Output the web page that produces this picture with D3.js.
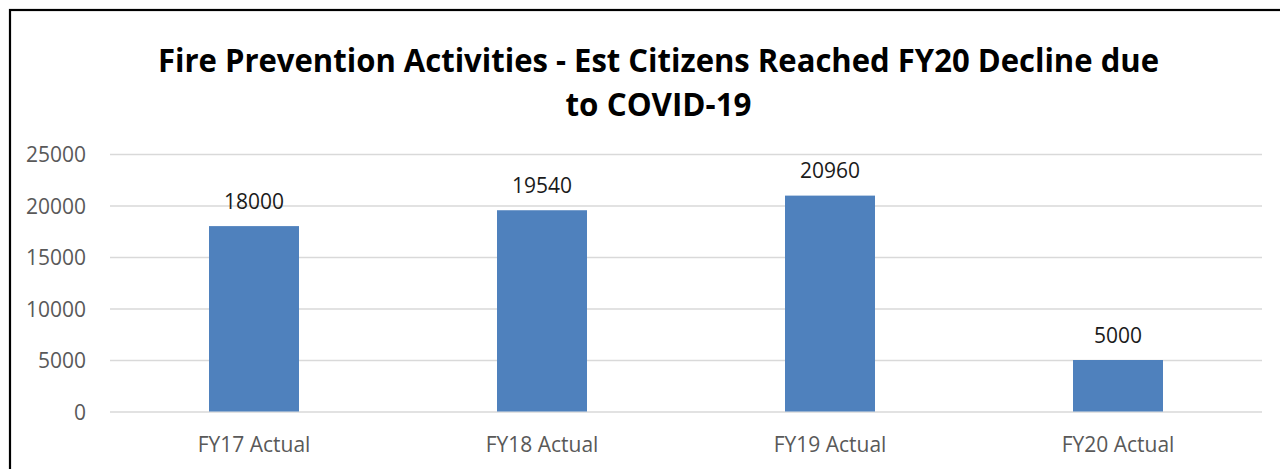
<!DOCTYPE html>
<html>
<head>
<meta charset="utf-8">
<script src="https://cdn.jsdelivr.net/npm/d3@7"></script>
<style>
  body { margin: 0; background: #fff; }
  svg { display: block; }
</style>
</head>
<body>
<div id="chart"></div>
<script>
// chart data
const categories = ['FY17 Actual', 'FY18 Actual', 'FY19 Actual', 'FY20 Actual'];
const citizensReached = [18000, 19540, 20960, 5000];
const yTicks = [0, 5000, 10000, 15000, 20000, 25000];
const titleLines = ['Fire Prevention Activities - Est Citizens Reached FY20 Decline due', 'to COVID-19'];

const width = 1280;
const height = 469;
const labelFont = '"Open Sans", sans-serif';

const svg = d3.select('#chart')
  .append('svg')
  .attr('width', width)
  .attr('height', height);

// outer frame (runs off right/bottom edge like the screenshot)
svg.append('rect')
  .attr('x', 10)
  .attr('y', 10)
  .attr('width', 1290)
  .attr('height', 500)
  .attr('fill', 'none')
  .attr('stroke', '#000')
  .attr('stroke-width', 2.2);

// title - two centred lines
const titleWidths = [1001, 186];
svg.selectAll('text.title')
  .data(titleLines)
  .join('text')
  .attr('class', 'title')
  .attr('x', 658.5)
  .attr('y', (d, i) => 71.5 + i * 44.5)
  .attr('text-anchor', 'middle')
  .attr('textLength', (d, i) => titleWidths[i])
  .attr('lengthAdjust', 'spacingAndGlyphs')
  .style('font-family', labelFont)
  .style('font-weight', 700)
  .style('font-size', '31.5px')
  .style('fill', '#000')
  .text(d => d);

const x = d3.scaleBand()
  .domain(categories)
  .range([110, 1262])
  .paddingInner(0.6875)
  .paddingOuter(0.34375);

const y = d3.scaleLinear()
  .domain([0, 25000])
  .range([411.5, 154]);

// gridlines
svg.append('g')
  .attr('transform', 'translate(110,0)')
  .call(d3.axisLeft(y).tickValues(yTicks).tickSize(-1152).tickFormat(''))
  .call(g => g.select('.domain').remove())
  .call(g => g.selectAll('line').attr('stroke', '#D9D9D9').attr('stroke-width', 1.5));

// y axis labels
svg.append('g')
  .attr('transform', 'translate(86,0)')
  .call(d3.axisLeft(y).tickValues(yTicks).tickSize(0).tickPadding(0).tickFormat(d3.format('d')))
  .call(g => g.select('.domain').remove())
  .call(g => g.selectAll('text')
    .attr('dy', '0.36em')
    .style('font-family', labelFont)
    .style('font-size', '21px')
    .style('fill', '#595959'));

// bars
svg.selectAll('rect.bar')
  .data(citizensReached)
  .join('rect')
  .attr('class', 'bar')
  .attr('x', (d, i) => x(categories[i]))
  .attr('y', d => y(d))
  .attr('width', x.bandwidth())
  .attr('height', d => y(0) - y(d))
  .attr('fill', '#4F81BD');

// value labels
svg.selectAll('text.val')
  .data(citizensReached)
  .join('text')
  .attr('class', 'val')
  .attr('x', (d, i) => x(categories[i]) + x.bandwidth() / 2)
  .attr('y', d => y(d) - 17.5)
  .attr('text-anchor', 'middle')
  .style('font-family', labelFont)
  .style('font-size', '21px')
  .style('fill', '#1a1a1a')
  .text(d => d);

// x axis labels
svg.append('g')
  .attr('transform', `translate(0,${y(0)})`)
  .call(d3.axisBottom(x).tickSize(0).tickPadding(0))
  .call(g => g.select('.domain').remove())
  .call(g => g.selectAll('text')
    .attr('dy', null)
    .attr('y', 40)
    .style('font-family', labelFont)
    .style('font-size', '21px')
    .style('fill', '#595959'));
</script>
</body>
</html>
